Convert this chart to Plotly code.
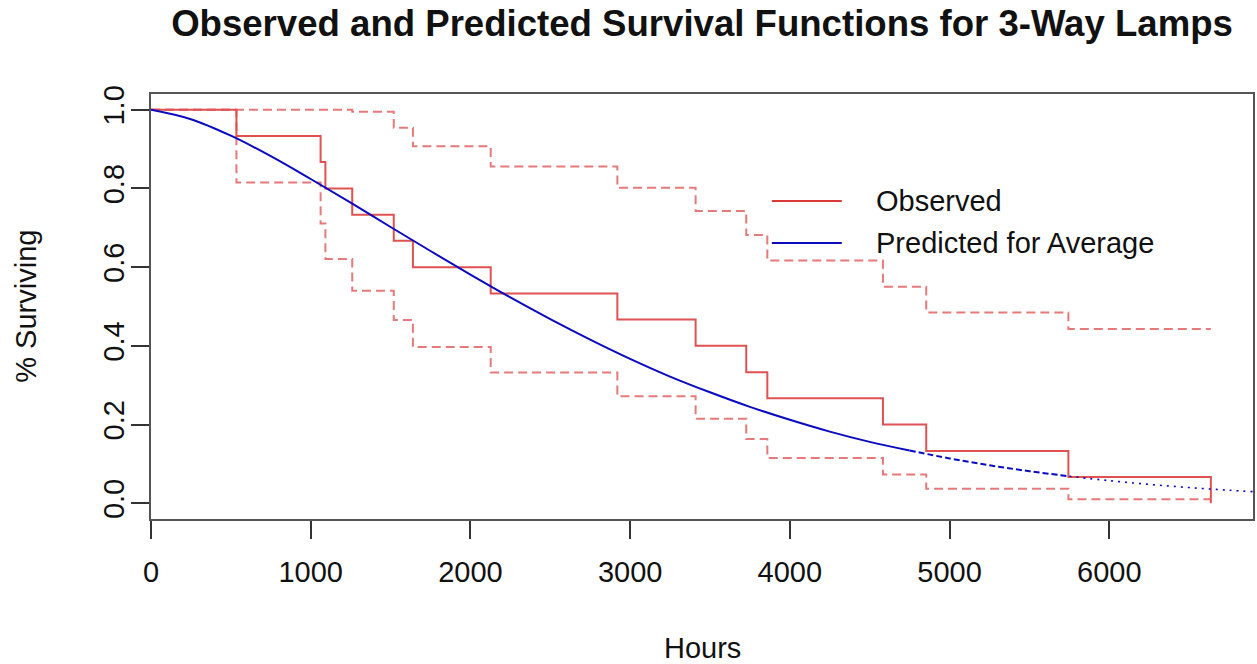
import plotly.graph_objects as go

# ---- data ----
event_hours = [0, 535, 1062, 1092, 1260, 1520, 1640, 2127, 2920, 3410, 3727, 3859, 4583, 4854, 5744, 6636]
observed_surv = [1.0, 0.933, 0.867, 0.800, 0.733, 0.667, 0.600, 0.533, 0.467, 0.400, 0.333, 0.267, 0.200, 0.133, 0.067, 0.0]
upper_ci = [1.0, 1.0, 1.0, 1.0, 0.995, 0.954, 0.907, 0.856, 0.802, 0.743, 0.682, 0.617, 0.550, 0.485, 0.443, 0.443]
lower_ci = [1.0, 0.815, 0.711, 0.621, 0.540, 0.466, 0.397, 0.332, 0.272, 0.215, 0.163, 0.115, 0.073, 0.037, 0.010, 0.010]

pred_hours = [0, 250, 500, 750, 1000, 1250, 1500, 1750, 2000, 2250, 2500, 2750, 3000, 3250, 3500,
              3750, 4000, 4250, 4500, 4750, 5000, 5250, 5500, 5750, 6000, 6250, 6500, 6750, 6900]
pred_surv = [1.0, 0.976, 0.934, 0.882, 0.824, 0.764, 0.702, 0.641, 0.581, 0.523, 0.468, 0.416, 0.367,
             0.322, 0.282, 0.245, 0.212, 0.182, 0.156, 0.134, 0.114, 0.0965, 0.0815, 0.0686, 0.0574,
             0.0480, 0.0399, 0.0331, 0.0295]

x_ticks = [0, 1000, 2000, 3000, 4000, 5000, 6000]
y_ticks = [0.0, 0.2, 0.4, 0.6, 0.8, 1.0]

title_text = "Observed and Predicted Survival Functions for 3-Way Lamps"
x_label = "Hours"
y_label = "% Surviving"
legend_labels = ["Observed", "Predicted for Average"]

FONT = "Liberation Sans, Arial, Helvetica, sans-serif"
RED = "#e05252"
RED_CI = "#e67a7a"
RED_LEG = "#d83a3a"
BLUE = "#0a0ac0"

# plot-area geometry (pixels) used to place layout decorations
W, H = 1257, 664
L, R, T, B = 151, 2, 94, 145
PW, PH = W - L - R, H - T - B


def px_x(p):
    return (p - L) / PW


def px_y(p):
    return (H - B - p) / PH


fig = go.Figure()

fig.add_trace(go.Scatter(x=event_hours, y=upper_ci, mode="lines", line_shape="hv",
                         line=dict(color=RED_CI, width=2, dash="9px,5px"), showlegend=False,
                         hoverinfo="skip"))
fig.add_trace(go.Scatter(x=event_hours, y=lower_ci, mode="lines", line_shape="hv",
                         line=dict(color=RED_CI, width=2, dash="9px,5px"), showlegend=False,
                         hoverinfo="skip"))
fig.add_trace(go.Scatter(x=event_hours, y=observed_surv, mode="lines", line_shape="hv",
                         line=dict(color=RED, width=2), name=legend_labels[0], showlegend=False))

# predicted curve: solid early, then dashed, then dotted tail
i1 = pred_hours.index(4750)
i2 = pred_hours.index(5750)
fig.add_trace(go.Scatter(x=pred_hours[:i1 + 1], y=pred_surv[:i1 + 1], mode="lines",
                         line=dict(color=BLUE, width=2, shape="spline"),
                         name=legend_labels[1], showlegend=False))
fig.add_trace(go.Scatter(x=pred_hours[i1:i2 + 1], y=pred_surv[i1:i2 + 1], mode="lines",
                         line=dict(color=BLUE, width=2, shape="spline", dash="6px,3px"),
                         showlegend=False))
fig.add_trace(go.Scatter(x=pred_hours[i2:], y=pred_surv[i2:], mode="lines",
                         line=dict(color=BLUE, width=1.6, shape="spline", dash="2px,5px"),
                         showlegend=False))

# legend drawn as layout decoration (R-style, long line samples, no box)
legend_rows = [201, 243]
legend_colors = [RED_LEG, BLUE]
shapes = []
annotations = []
for lab, col, yy in zip(legend_labels, legend_colors, legend_rows):
    shapes.append(dict(type="line", xref="paper", yref="paper",
                       x0=px_x(773), x1=px_x(843), y0=px_y(yy), y1=px_y(yy),
                       line=dict(color=col, width=2.2)))
    annotations.append(dict(text=lab, xref="paper", yref="paper", x=px_x(875), y=px_y(yy),
                            xanchor="left", yanchor="middle", showarrow=False,
                            font=dict(size=29, family=FONT, color="#111")))

annotations += [
    dict(text=x_label, xref="paper", yref="paper", x=0.5, y=px_y(648),
         xanchor="center", yanchor="middle", showarrow=False,
         font=dict(size=29, family=FONT, color="#111")),
    dict(text=y_label, xref="paper", yref="paper", x=px_x(25), y=0.5,
         xanchor="center", yanchor="middle", textangle=-90, showarrow=False,
         font=dict(size=29, family=FONT, color="#111")),
]

fig.update_layout(
    width=W, height=H,
    margin=dict(l=L, r=R, t=T, b=B),
    paper_bgcolor="white", plot_bgcolor="white",
    font=dict(family=FONT, size=29, color="#111"),
    title=dict(text="<b>" + title_text + "</b>", x=0.5, xref="paper", xanchor="center",
               y=1 - 23 / H, yref="container", yanchor="middle",
               font=dict(family=FONT, size=36.6, color="#111")),
    showlegend=False,
    xaxis=dict(range=[0, 6900], tickvals=x_ticks, ticktext=[str(v) for v in x_ticks],
               showgrid=False, zeroline=False, showline=True, mirror=True,
               linecolor="#555", linewidth=2, ticks="outside", ticklen=18, tickwidth=1.5,
               tickcolor="#333", ticklabelstandoff=8,
               tickfont=dict(size=29, family=FONT, color="#111")),
    yaxis=dict(range=[-0.04, 1.04], tickvals=y_ticks, ticktext=["%.1f" % v for v in y_ticks],
               showgrid=False, zeroline=False, showline=True, mirror=True,
               linecolor="#555", linewidth=2, ticks="outside", ticklen=18, tickwidth=1.5,
               tickcolor="#333", tickangle=-90, ticklabelstandoff=-5,
               tickfont=dict(size=29, family=FONT, color="#111")),
    shapes=shapes,
    annotations=annotations,
)

fig.write_html("out.html")
